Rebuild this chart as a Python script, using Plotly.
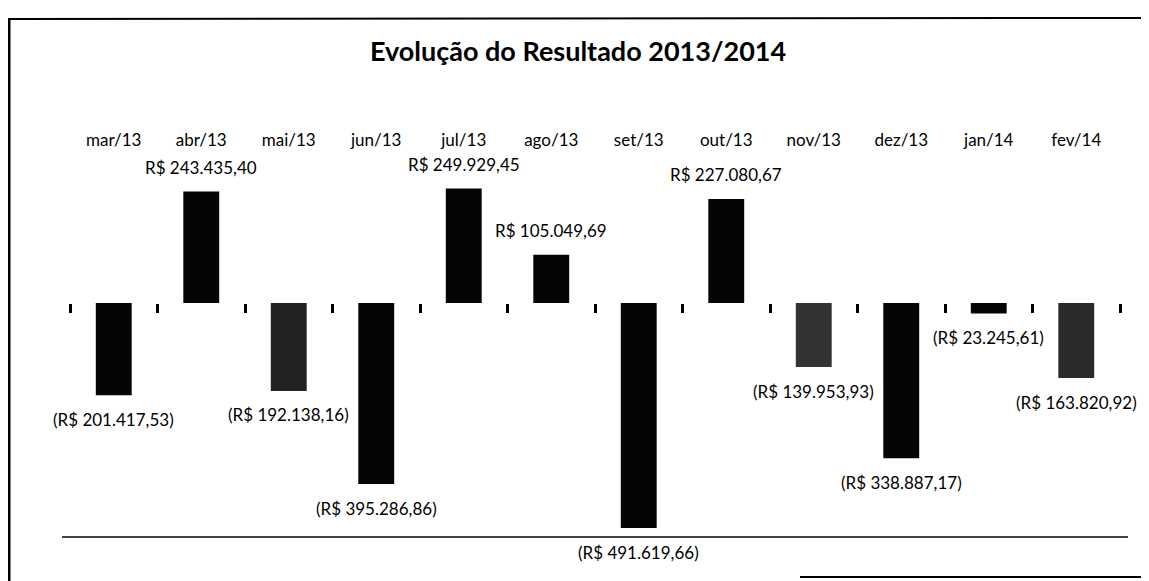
import plotly.graph_objects as go

# ---- data ----
months = ["mar/13", "abr/13", "mai/13", "jun/13", "jul/13", "ago/13",
          "set/13", "out/13", "nov/13", "dez/13", "jan/14", "fev/14"]
resultado = [-201417.53, 243435.40, -192138.16, -395286.86, 249929.45, 105049.69,
             -491619.66, 227080.67, -139953.93, -338887.17, -23245.61, -163820.92]
title_text = "Evolução do Resultado 2013/2014"

# ---- style ----
bar_colors = ["#050505", "#050505", "#222222", "#050505", "#050505", "#050505",
              "#050505", "#050505", "#333333", "#050505", "#050505", "#2a2a2a"]
FONT = "Lato"
OFF = 8                      # default page body margin of the html page
PAGE_W, PAGE_H = 1149, 581
W, H = PAGE_W - OFF, PAGE_H - OFF
# plot area in page pixels
PL, PR, PT, PB = 70, 1120, 150, 537
ML, MR, MT, MB = PL - OFF, W - (PR - OFF), PT - OFF, H - (PB - OFF)
YMIN, YMAX = -511000, 334000


def brl(v):
    s = f"{abs(v):,.2f}".replace(",", "X").replace(".", ",").replace("X", ".")
    return f"R$ {s}" if v >= 0 else f"(R$ {s})"


fig = go.Figure()
fig.add_trace(go.Bar(
    x=months, y=resultado, marker=dict(color=bar_colors, line=dict(width=0)),
    xaxis="x", yaxis="y", hoverinfo="skip", cliponaxis=False,
))
# invisible helper trace for the top category labels
fig.add_trace(go.Scatter(
    x=months, y=[0] * len(months), mode="markers", marker=dict(opacity=0),
    xaxis="x2", yaxis="y", hoverinfo="skip", showlegend=False,
))

annotations = []
for m, v in zip(months, resultado):
    annotations.append(dict(
        x=m, y=v, xref="x", yref="y", text=brl(v), showarrow=False,
        yshift=24 if v >= 0 else -24, font=dict(family=FONT, size=17, color="#000"),
    ))

zero_pos = (0 - YMIN) / (YMAX - YMIN)
pw = W - ML - MR
ph = H - MT - MB


def px_x(p):  # page pixel -> paper
    return (p - OFF - ML) / pw


def px_y(p):
    return (H - MB - (p - OFF)) / ph


line = dict(color="#000", width=2)
shapes = [
    dict(type="line", xref="paper", yref="paper", x0=px_x(9), x1=px_x(9),
         y0=px_y(20), y1=px_y(581), line=dict(color="#000", width=3)),
    dict(type="line", xref="paper", yref="paper", x0=px_x(8), x1=px_x(1149),
         y0=px_y(19), y1=px_y(18), line=line),
    dict(type="line", xref="paper", yref="paper", x0=px_x(62), x1=px_x(1128),
         y0=0, y1=0, line=dict(color="#000", width=1.5)),
    dict(type="line", xref="paper", yref="paper", x0=px_x(800), x1=px_x(1149),
         y0=px_y(577), y1=px_y(577), line=line),
]

fig.update_layout(
    width=W, height=H,
    margin=dict(l=ML, r=MR, t=MT, b=MB),
    paper_bgcolor="#fff", plot_bgcolor="#fff",
    showlegend=False, bargap=0.59,
    title=dict(text=f"<b>{title_text}</b>", x=(578 - OFF) / W, xanchor="center",
               y=1 - (52 - OFF) / H, yanchor="middle", yref="container",
               font=dict(family=FONT, size=27, color="#000")),
    xaxis=dict(type="category", categoryorder="array", categoryarray=months,
               range=[-0.5, len(months) - 0.5],
               anchor="free", position=zero_pos, side="bottom",
               showline=False, showgrid=False, zeroline=False,
               ticks="outside", tickson="boundaries", ticklen=9, tickwidth=3,
               tickcolor="#000", showticklabels=False),
    xaxis2=dict(type="category", categoryorder="array", categoryarray=months,
                range=[-0.5, len(months) - 0.5],
                overlaying="x", side="top", anchor="y",
                showline=False, showgrid=False, zeroline=False, ticks="",
                tickfont=dict(family=FONT, size=17, color="#000")),
    yaxis=dict(range=[YMIN, YMAX], visible=False, showgrid=False, zeroline=False),
    annotations=annotations,
    shapes=shapes,
)

fig.write_html("out.html")
